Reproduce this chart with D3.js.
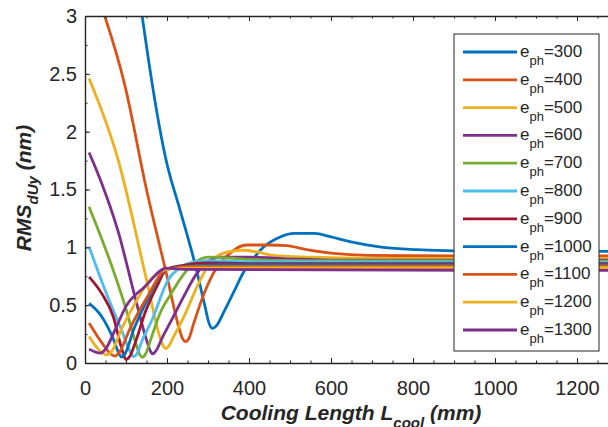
<!DOCTYPE html>
<html>
<head>
<meta charset="utf-8">
<script src="https://cdn.jsdelivr.net/npm/d3@7"></script>
<style>
  body { margin: 0; background: #fff; }
  svg { display: block; font-family: "Liberation Sans", Arial, sans-serif; }
  .tick text { fill: #262626; }
  .domain, .tick line { stroke: #262626; }
</style>
</head>
<body>
<div id="chart"></div>
<script>
// Photon energies, one curve each
var ephLabels = ["300", "400", "500", "600", "700", "800", "900", "1000", "1100", "1200", "1300"];

// [cooling length (mm), RMS dUy (nm)] for each photon energy
var e300 = [[120, 3.49], [200, 1.72], [232, 1.32], [268, 0.86], [292, 0.50], [303, 0.34], [311, 0.30], [320, 0.32], [340, 0.45], [365, 0.63], [386, 0.78], [410, 0.90], [435, 1.0], [476, 1.09], [510, 1.12], [560, 1.12], [600, 1.09], [646, 1.05], [690, 1.02], [727, 1.0], [809, 0.98], [900, 0.97], [1000, 0.97], [1300, 0.965]];
var e400 = [[30, 3.19], [98, 2.39], [150, 1.5], [200, 0.75], [228, 0.32], [238, 0.21], [245, 0.185], [253, 0.21], [265, 0.34], [285, 0.55], [313, 0.775], [354, 0.95], [394, 1.02], [450, 1.02], [492, 1.015], [540, 0.98], [600, 0.95], [690, 0.93], [900, 0.925], [1300, 0.925]];
var e500 = [[10, 2.46], [81, 1.755], [150, 0.72], [183, 0.22], [192, 0.14], [197, 0.125], [203, 0.14], [215, 0.22], [244, 0.42], [272, 0.65], [300, 0.84], [330, 0.94], [385, 0.975], [420, 0.96], [460, 0.93], [550, 0.915], [700, 0.905], [1300, 0.905]];
var e600 = [[10, 1.82], [40, 1.56], [81, 1.135], [122, 0.57], [150, 0.2], [160, 0.1], [165, 0.08], [172, 0.1], [190, 0.23], [211, 0.37], [240, 0.57], [270, 0.76], [300, 0.88], [330, 0.915], [400, 0.915], [500, 0.9], [600, 0.89], [1300, 0.89]];
var e700 = [[10, 1.35], [57, 0.92], [98, 0.49], [125, 0.16], [134, 0.07], [140, 0.05], [148, 0.08], [160, 0.2], [183, 0.43], [210, 0.6], [236, 0.745], [265, 0.86], [300, 0.915], [340, 0.91], [400, 0.895], [500, 0.885], [1300, 0.88]];
var e800 = [[10, 1.005], [49, 0.63], [89, 0.285], [110, 0.1], [118, 0.055], [125, 0.07], [140, 0.2], [163, 0.37], [203, 0.72], [230, 0.82], [260, 0.87], [300, 0.885], [400, 0.875], [1300, 0.87]];
var e900 = [[10, 0.745], [41, 0.60], [69, 0.40], [90, 0.12], [100, 0.03], [108, 0.05], [125, 0.2], [146, 0.43], [175, 0.66], [199, 0.81], [240, 0.845], [300, 0.865], [400, 0.86], [1300, 0.86]];
var e1000 = [[10, 0.515], [41, 0.40], [70, 0.2], [83, 0.08], [89, 0.05], [96, 0.07], [120, 0.3], [150, 0.53], [199, 0.81], [260, 0.84], [350, 0.85], [1300, 0.85]];
var e1100 = [[10, 0.345], [40, 0.18], [62, 0.08], [73, 0.06], [85, 0.1], [110, 0.3], [150, 0.56], [199, 0.81], [260, 0.835], [1300, 0.84]];
var e1200 = [[10, 0.23], [35, 0.11], [53, 0.07], [65, 0.1], [90, 0.3], [118, 0.49], [150, 0.68], [199, 0.81], [260, 0.82], [1300, 0.825]];
var e1300 = [[10, 0.12], [25, 0.095], [37, 0.085], [50, 0.12], [75, 0.3], [100, 0.49], [146, 0.66], [199, 0.82], [240, 0.81], [1300, 0.80]];

var series = [e300, e400, e500, e600, e700, e800, e900, e1000, e1100, e1200, e1300];

// Axis ticks
var xTicks = [0, 200, 400, 600, 800, 1000, 1200];
var yTicks = [0, 0.5, 1, 1.5, 2, 2.5, 3];

// MATLAB default line colours (cycle repeats after 7)
var colors = ["#0072BD", "#D95319", "#EDB120", "#7E2F8E", "#77AC30", "#4DBEEE", "#A2142F"];

var svgWidth = 608;
var svgHeight = 427;

var svg = d3.select("#chart")
  .append("svg")
  .attr("width", svgWidth)
  .attr("height", svgHeight);

// Plot box: x runs past the right edge of the page
var plot = { left: 85, right: 618, top: 16, bottom: 363 };

var xScale = d3.scaleLinear().domain([0, 1300]).range([plot.left, plot.right]);
var yScale = d3.scaleLinear().domain([0, 3]).range([plot.bottom, plot.top]);

svg.append("clipPath")
  .attr("id", "plot-clip")
  .append("rect")
  .attr("x", plot.left)
  .attr("y", plot.top)
  .attr("width", plot.right - plot.left)
  .attr("height", plot.bottom - plot.top);

// Curves
var line = d3.line()
  .x(d => xScale(d[0]))
  .y(d => yScale(d[1]))
  .curve(d3.curveMonotoneX);

svg.append("g")
  .attr("clip-path", "url(#plot-clip)")
  .selectAll("path")
  .data(series)
  .enter()
  .append("path")
  .attr("d", line)
  .attr("fill", "none")
  .attr("stroke", (d, i) => colors[i % colors.length])
  .attr("stroke-width", 2.8)
  .attr("stroke-linejoin", "round");

// Minor ticks (inward)
var minorX = d3.range(0, 1301, 50);
var minorY = d3.range(0, 3.01, 0.25);

svg.append("g")
  .attr("transform", `translate(0, ${plot.bottom})`)
  .call(d3.axisBottom(xScale).tickValues(minorX).tickSize(-2.5).tickFormat(""))
  .call(g => g.select(".domain").remove());
svg.append("g")
  .attr("transform", `translate(0, ${plot.top})`)
  .call(d3.axisTop(xScale).tickValues(minorX).tickSize(-2.5).tickFormat(""))
  .call(g => g.select(".domain").remove());
svg.append("g")
  .attr("transform", `translate(${plot.left}, 0)`)
  .call(d3.axisLeft(yScale).tickValues(minorY).tickSize(-2.5).tickFormat(""))
  .call(g => g.select(".domain").remove());

// Major axes
var bottomAxis = d3.axisBottom(xScale).tickValues(xTicks).tickSizeInner(-5).tickSizeOuter(0).tickPadding(18).tickFormat(d => d);
var topAxis = d3.axisTop(xScale).tickValues(xTicks).tickSizeInner(-5).tickSizeOuter(0).tickFormat("");
var leftAxis = d3.axisLeft(yScale).tickValues(yTicks).tickSizeInner(-5).tickSizeOuter(0).tickPadding(8).tickFormat(d => d);

svg.append("g")
  .attr("transform", `translate(0, ${plot.bottom})`)
  .call(bottomAxis)
  .call(g => g.selectAll("text").attr("font-size", 20).attr("font-family", "Liberation Sans, Arial, sans-serif"));
svg.append("g")
  .attr("transform", `translate(0, ${plot.top})`)
  .call(topAxis);
svg.append("g")
  .attr("transform", `translate(${plot.left}, 0)`)
  .call(leftAxis)
  .call(g => g.selectAll("text").attr("font-size", 20).attr("font-family", "Liberation Sans, Arial, sans-serif"));

svg.selectAll(".domain").attr("stroke-width", 1.4);
svg.selectAll(".tick line").attr("stroke-width", 1);

// Axis titles
var xTitle = svg.append("text")
  .attr("x", 351)
  .attr("y", 420)
  .attr("text-anchor", "middle")
  .attr("font-size", 21)
  .attr("font-weight", "bold")
  .attr("font-style", "italic")
  .attr("fill", "#262626");
xTitle.append("tspan").text("Cooling Length L");
xTitle.append("tspan").attr("font-size", 15).attr("dy", 8).text("cool");
xTitle.append("tspan").attr("dy", -8).text(" (mm)");

var yTitle = svg.append("text")
  .attr("transform", "translate(31, 188) rotate(-90)")
  .attr("text-anchor", "middle")
  .attr("font-size", 21)
  .attr("font-weight", "bold")
  .attr("font-style", "italic")
  .attr("fill", "#262626");
yTitle.append("tspan").text("RMS");
yTitle.append("tspan").attr("font-size", 15).attr("dy", 7).text("dUy");
yTitle.append("tspan").attr("dy", -7).text(" (nm)");

// Legend
var legend = svg.append("g");
legend.append("rect")
  .attr("x", 454)
  .attr("y", 34)
  .attr("width", 145)
  .attr("height", 317)
  .attr("fill", "#fff")
  .attr("stroke", "#262626")
  .attr("stroke-width", 1);

var rows = legend.selectAll("g.row")
  .data(ephLabels)
  .enter()
  .append("g")
  .attr("class", "row")
  .attr("transform", (d, i) => `translate(0, ${52 + i * 27.8})`);

rows.append("line")
  .attr("x1", 463)
  .attr("x2", 517)
  .attr("stroke", (d, i) => colors[i % colors.length])
  .attr("stroke-width", 2.8);

var labels = rows.append("text")
  .attr("x", 520)
  .attr("y", 5)
  .attr("font-size", 17)
  .attr("fill", "#262626");
labels.append("tspan").text("e");
labels.append("tspan").attr("font-size", 13).attr("dy", 8).text("ph");
labels.append("tspan").attr("dy", -8).text(d => "=" + d);
</script>
</body>
</html>
